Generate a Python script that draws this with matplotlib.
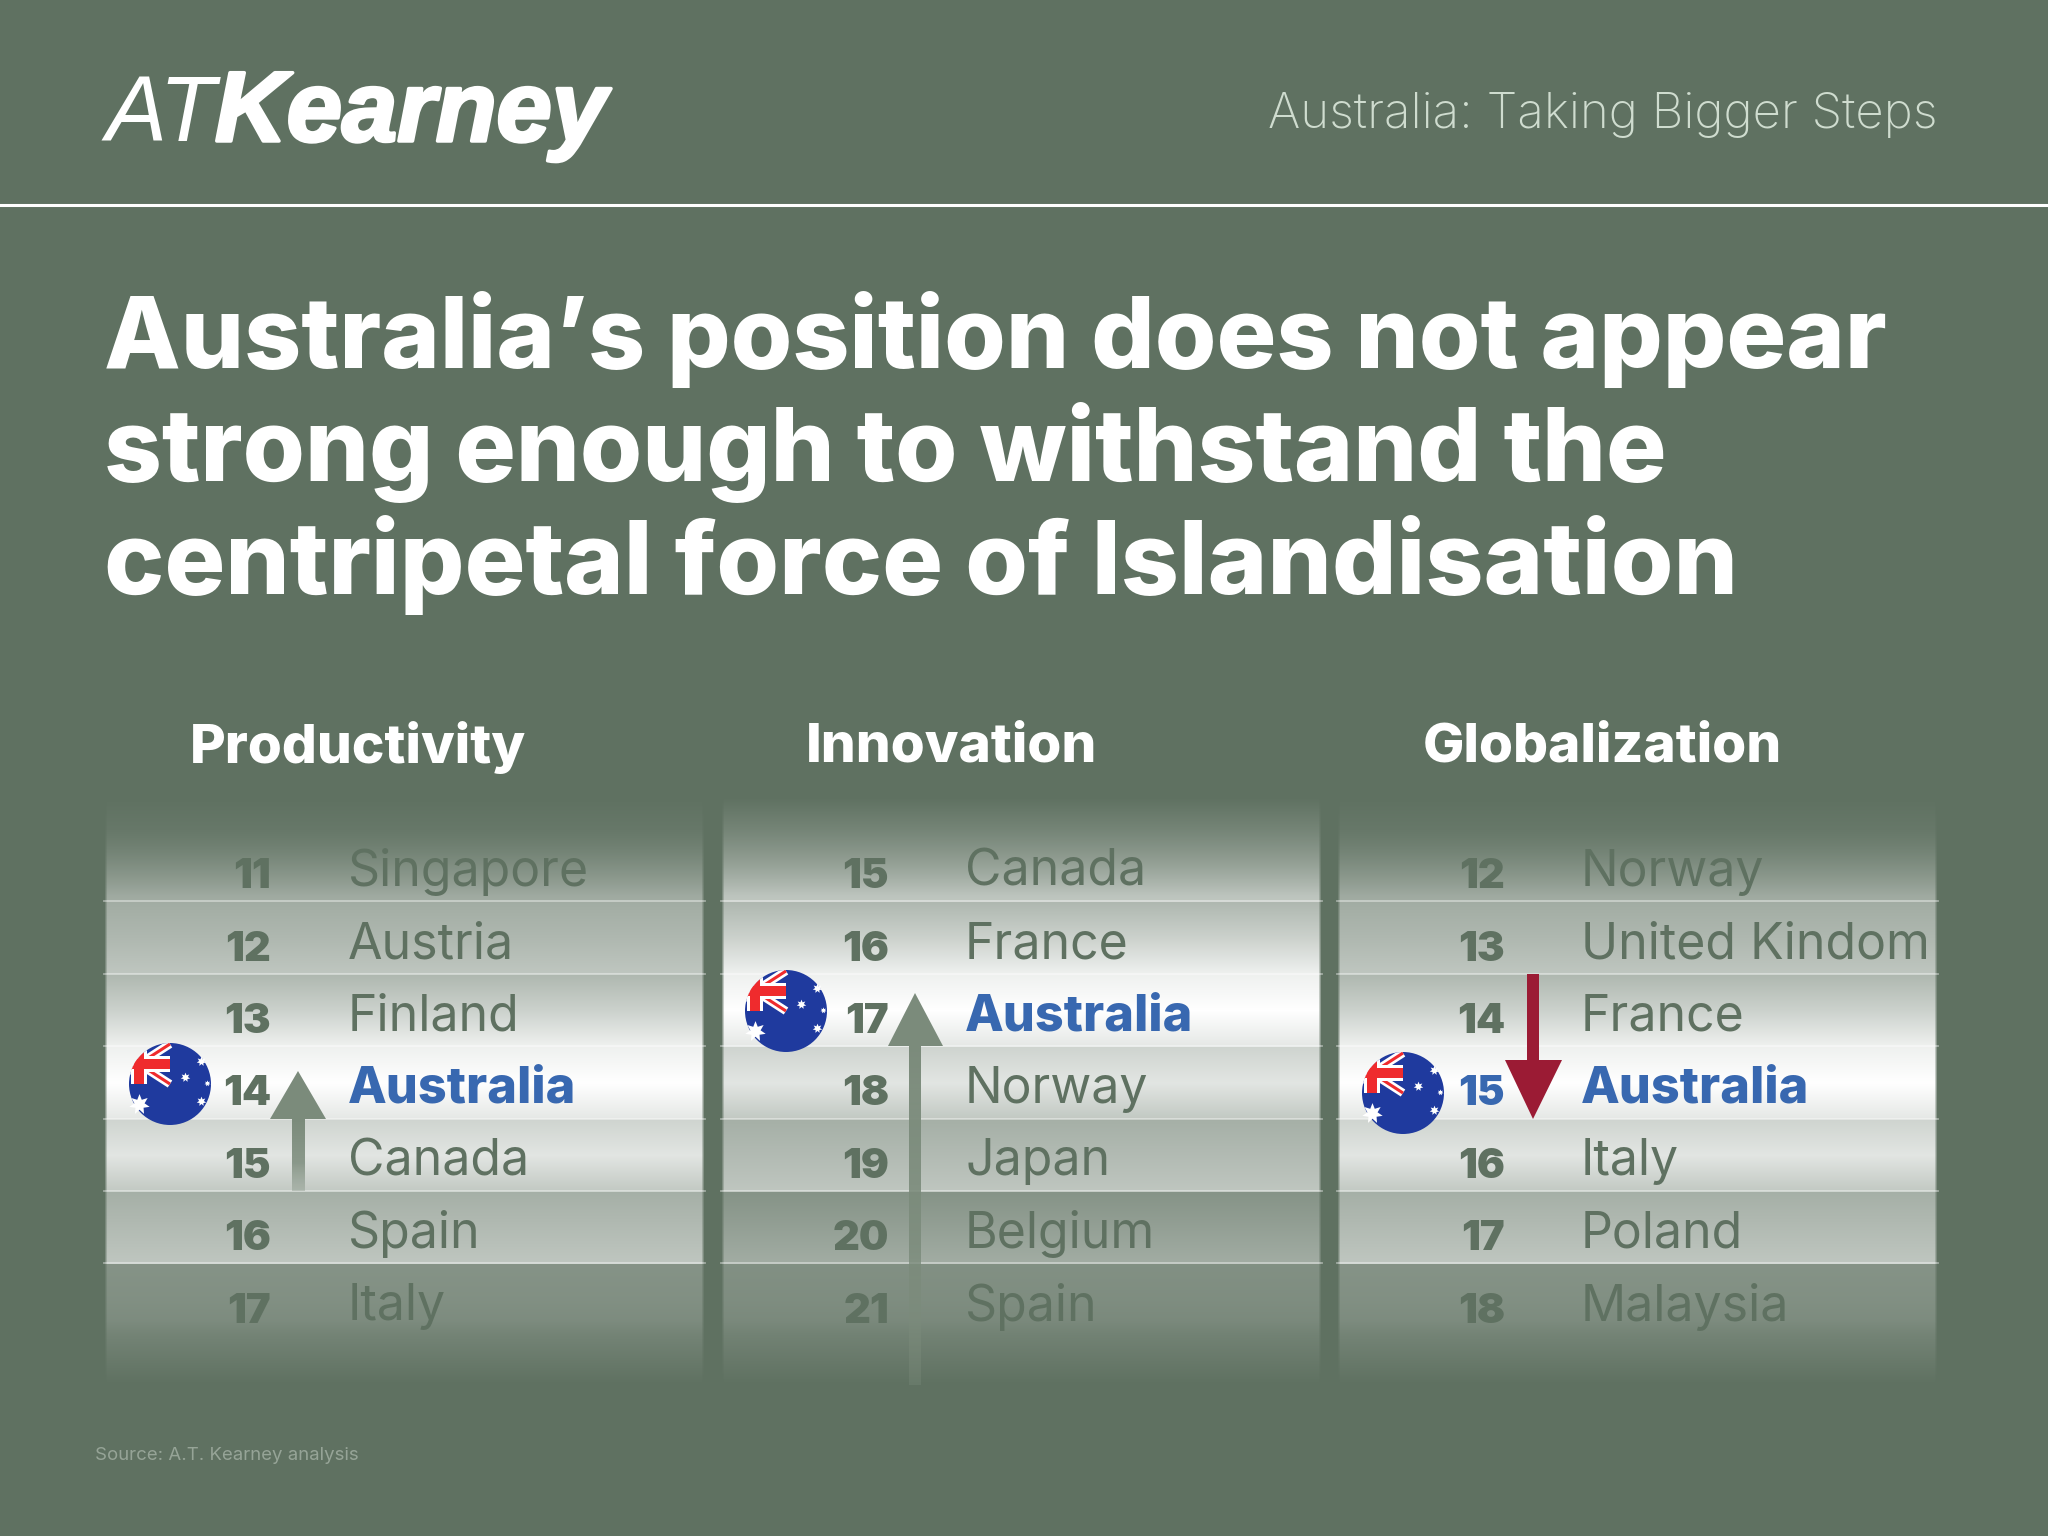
import matplotlib
matplotlib.use("Agg")
import matplotlib.pyplot as plt
from matplotlib.patches import Circle, Polygon, Rectangle
import matplotlib.patheffects as pe
import numpy as np

# ranking tables
panel_titles = ["Productivity", "Innovation", "Globalization"]
first_ranks = [11, 15, 12]
countries = [
    ["Singapore", "Austria", "Finland", "Australia", "Canada", "Spain", "Italy"],
    ["Canada", "France", "Australia", "Norway", "Japan", "Belgium", "Spain"],
    ["Norway", "United Kindom", "France", "Australia", "Italy", "Poland", "Malaysia"],
]
title_lines = ["Australia’s position does not appear",
               "strong enough to withstand the",
               "centripetal force of Islandisation"]

BG = "#5f7161"
TXT = "#5f7161"
BLUE = "#3868b0"
RED = "#9b1b34"
ARROW = "#7b8b7b"
SANS = "Inter"

panel_left = [104, 721, 1337]
panel_w = 601
row_top = 829
row_h = 72.4

# brightness of each band (top, middle, bottom) by distance from the Australia row
band_shade = {-3: (.15, .30, .42), -2: (.42, .50, .60), -1: (.50, .68, .90), 0: (.90, 1, .84),
              1: (.70, .82, .62), 2: (.44, .52, .60), 3: (.24, .33, .42), 4: (.22, .20, .16)}

fig = plt.figure(figsize=(20.48, 15.36), dpi=100, facecolor=BG)
ax = fig.add_axes([0, 0, 1, 1])
ax.set_facecolor(BG)
ax.axis("off")


def draw_panel(left, hi):
    ys, ts = [], []
    for i in range(7):
        top, mid, bot = band_shade[i - hi]
        if i == 6:
            top, mid, bot = top, top * 0.9, top * 0.7
        y0 = row_top + i * row_h
        ys += [y0 + 0.5, y0 + row_h / 2, y0 + row_h - 0.5]
        ts += [top, mid, bot]
    yy = np.arange(797, 1386)
    t = np.interp(yy, ys, ts)
    t = t * np.interp(yy, [797, 895, 1320, 1384], [0, 1, 1, 0])
    base = np.array(matplotlib.colors.to_rgb(BG))
    rgb = base + (1 - base) * t[:, None]
    img = np.ones((len(yy), panel_w, 4))
    img[:, :, :3] = rgb[:, None, :]
    img[:, :, 3] = np.interp(np.arange(panel_w), [0, 3, panel_w - 4, panel_w - 1], [0, 1, 1, 0])
    ax.imshow(img, extent=[left, left + panel_w, 1386, 797], aspect="auto", zorder=1, interpolation="bilinear")
    for i in range(1, 7):
        y = row_top + i * row_h
        ax.plot([left, left + panel_w], [y, y], color="white", alpha=0.42, lw=1.3, zorder=2)


def draw_flag(cx, cy, r=41):
    clip = Circle((cx, cy), r, transform=ax.transData)
    ax.add_patch(Circle((cx, cy), r, fc="#1f3a9e", ec="none", zorder=6))
    # canton is wider than the quarter circle, the circle cuts it off on the left
    x0, y0, w, h = cx - 62, cy - 40, 62, 40
    parts = [
        ax.plot([x0, cx], [y0, cy], color="white", lw=6, zorder=7, solid_capstyle="butt")[0],
        ax.plot([x0, cx], [cy, y0], color="white", lw=6, zorder=7, solid_capstyle="butt")[0],
        ax.plot([x0, cx], [y0, cy], color="#ef2b2d", lw=2.2, zorder=8, solid_capstyle="butt")[0],
        ax.plot([x0, cx], [cy, y0], color="#ef2b2d", lw=2.2, zorder=8, solid_capstyle="butt")[0],
        ax.add_patch(Rectangle((x0, cy - h / 2 - 8), w, 16, fc="white", ec="none", zorder=8)),
        ax.add_patch(Rectangle((cx - w / 2 - 8, y0), 16, h, fc="white", ec="none", zorder=8)),
        ax.add_patch(Rectangle((x0, cy - h / 2 - 5), w, 10, fc="#ef2b2d", ec="none", zorder=9)),
        ax.add_patch(Rectangle((cx - w / 2 - 5, y0), 10, h, fc="#ef2b2d", ec="none", zorder=9)),
    ]
    for p in parts:
        p.set_clip_path(clip)
    for dx, dy, s in [(-31, 20, 15), (15, -7, 7), (31, -23, 7), (37, -1, 4.5), (31, 17, 7)]:
        ax.plot(cx + dx, cy + dy, marker=(7, 1, 0), ms=s, color="white", mec="none", zorder=10)


def fade_shaft(x0, x1, y0, y1, color):
    # arrow shaft fading out towards y1
    rgb = matplotlib.colors.to_rgb(color)
    n = int(abs(y1 - y0))
    img = np.ones((n, 2, 4))
    img[:, :, :3] = rgb
    img[:, :, 3] = np.interp(np.arange(n), [0, n * 0.6, n - 1], [1, 0.85, 0.35])[:, None]
    ax.imshow(img, extent=[x0, x1, y1, y0], aspect="auto", zorder=5)


for p, left in enumerate(panel_left):
    hi = countries[p].index("Australia")
    draw_panel(left, hi)
    ax.text(left + [86, 85, 86][p], 748, panel_titles[p], fontsize=39.5, fontweight=800, family=SANS,
            color="white", va="center", ha="left", zorder=4)
    for i, name in enumerate(countries[p]):
        yc = row_top + i * row_h + row_h / 2
        col = BLUE if i == hi else TXT
        ax.text(left + [167, 168, 168][p], yc + 12, str(first_ranks[p] + i), fontsize=30, fontweight="black",
                family=SANS, color=col if (p == 2 and i == hi) else TXT, va="center", ha="right", zorder=4)
        ax.text(left + 244, yc + 7, name, fontsize=36.3 if i == hi else 36, fontweight=800 if i == hi else "normal",
                family=SANS, color=col, va="center", ha="left", zorder=4)

draw_flag(170, 1084)
draw_flag(786, 1011)
draw_flag(1403, 1093)

# arrows
ax.add_patch(Polygon([(270, 1119), (326, 1119), (298, 1071)], fc=ARROW, ec="none", zorder=5))
fade_shaft(292, 305, 1119, 1191, ARROW)
ax.add_patch(Polygon([(888, 1046), (943, 1046), (915, 993)], fc=ARROW, ec="none", zorder=5))
fade_shaft(909, 921, 1046, 1385, ARROW)
ax.add_patch(Rectangle((1527, 974), 12, 90, fc=RED, ec="none", zorder=5))
ax.add_patch(Polygon([(1505, 1060), (1562, 1060), (1533, 1119)], fc=RED, ec="none", zorder=5))

# header
ax.plot([0, 2048], [205, 205], color="white", lw=2.2, zorder=3)
ax.text(106, 141, "AT", fontsize=66, family="Liberation Sans", style="italic", color="white", va="baseline", zorder=4)
ax.text(215, 141, "Kearney", fontsize=71.5, family="Liberation Sans", style="italic", fontweight="bold", color="white",
        va="baseline", zorder=4, path_effects=[pe.withStroke(linewidth=2.5, foreground="white")])
ax.text(1937, 115, "Australia: Taking Bigger Steps", fontsize=35.4, family=SANS, fontweight=200, color="#cfdccf",
        va="center", ha="right", zorder=4)

for i, line in enumerate(title_lines):
    ax.text(104, 368 + i * 113, line, fontsize=[71.8, 72.6, 73][i], family=SANS, fontweight=800, color="white",
            va="baseline", zorder=4)

ax.text(95, 1456, "Source: A.T. Kearney analysis", fontsize=13.4, family=SANS, color="#96a497", va="center", zorder=4)

ax.set_xlim(0, 2048)
ax.set_ylim(1536, 0)
fig.savefig("out.png", dpi=100, facecolor=BG)
